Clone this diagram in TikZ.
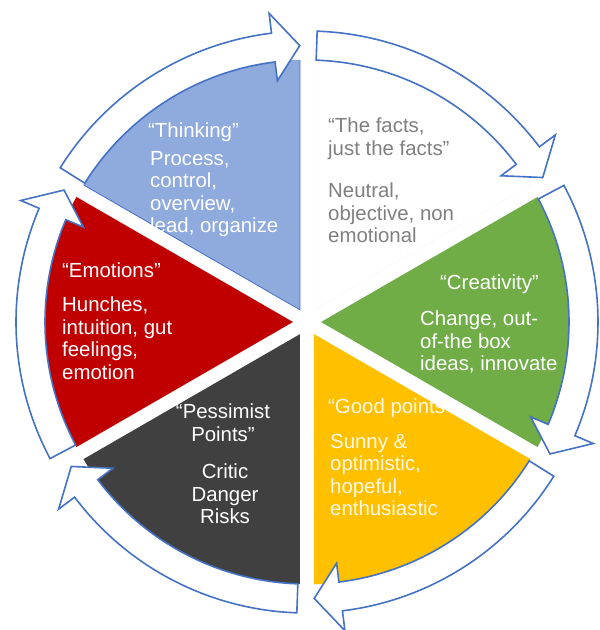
\documentclass[tikz,border=0pt]{standalone}
\usepackage{fontspec}
\setmainfont{Liberation Sans}
\definecolor{blueS}{HTML}{8FAADC}
\definecolor{blueL}{HTML}{4472C4}
\definecolor{greenS}{HTML}{70AD47}
\definecolor{yellowS}{HTML}{FFC000}
\definecolor{darkS}{HTML}{404040}
\definecolor{redS}{HTML}{C00000}
\definecolor{grayT}{HTML}{7F7F7F}
\definecolor{creamT}{HTML}{FFF8E6}
\begin{document}
\begin{tikzpicture}[x=1pt,y=1pt,
  arrowseg/.style={fill=white, draw=blueL, line width=1.6pt, line join=miter},
  lbl/.style={inner sep=0pt, font=\fontsize{20.4}{22.5}\selectfont, align=left, anchor=north west},
  clbl/.style={inner sep=0pt, font=\fontsize{20.4}{22.5}\selectfont, align=center, anchor=north}]
\useasboundingbox (-307,-308) rectangle (293,322);
% slices
\foreach \t/\c in {120/blueS, 0/greenS, -60/yellowS, -120/darkS, 180/redS}{
  \fill[\c, shift={(\t:14)}] (0,0) -- (\t-30:250) arc[start angle=\t-30, end angle=\t+30, radius=250] -- cycle;
}
\draw[blueL, line width=0.8pt, shift={(120:14)}] (90:250) -- (0,0) -- (150:250);
\draw[gray!40, dotted, shift={(60:14)}] (0,0) -- (30:250) arc[start angle=30, end angle=90, radius=250] -- cycle;
% arrows
\foreach \b in {150,90,30,-30,-90,-150}{
  \draw[arrowseg] (\b-2:291) arc[start angle=\b-2, end angle=\b-53, radius=291]
    -- (\b-53:311) -- (\b-58.5:276.5) -- (\b-53:243) -- (\b-53:262)
    arc[start angle=\b-53, end angle=\b-2, radius=262] -- cycle;
}
% texts
\node[lbl, text=white] (t1) at (-159,199) {“Thinking”};
\node[lbl, text=white] (b1) at (-157,171) {Process,\\control,\\overview,\\lead, organize};
\node[lbl, text=grayT] (t2) at (21,204) {“The facts,\\just the facts”};
\node[lbl, text=grayT] (b2) at (21,139) {Neutral,\\objective, non\\emotional};
\node[lbl, text=white] (t3) at (133,47) {“Creativity”};
\node[lbl, text=white] (b3) at (113,11) {Change, out-\\of-the box\\ideas, innovate};
\node[lbl, text=creamT] (t4) at (21,-77) {“Good points”};
\node[lbl, text=creamT] (b4) at (23,-112) {Sunny \&\\optimistic,\\hopeful,\\enthusiastic};
\node[clbl, text=white] (t5) at (-84,-82) {“Pessimist\\Points”};
\node[clbl, text=white] (b5) at (-82,-142) {Critic\\Danger\\Risks};
\node[lbl, text=white] (t6) at (-245,59) {“Emotions”};
\node[lbl, text=white] (b6) at (-245,25) {Hunches,\\intuition, gut\\feelings,\\emotion};
\end{tikzpicture}
\end{document}
